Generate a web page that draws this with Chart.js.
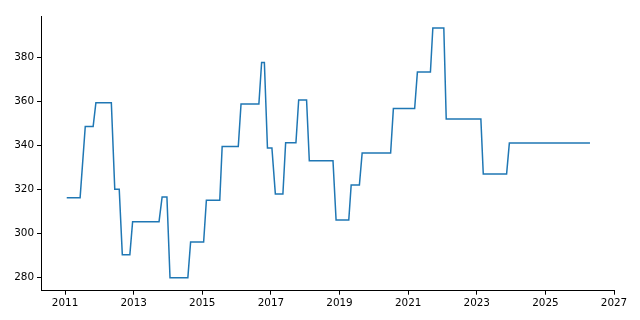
<!DOCTYPE html>
<html>
<head>
<meta charset="utf-8">
<script src="https://cdn.jsdelivr.net/npm/chart.js@4/dist/chart.umd.min.js"></script>
<style>
  html, body { margin: 0; padding: 0; background: #ffffff; }
  #wrap { width: 640px; height: 320px; position: relative; }
</style>
</head>
<body>
<div id="wrap"><canvas id="c" width="640" height="320"></canvas></div>
<script>
// Dates (decimal years) and values
const years = [
  2011.05, 2011.44, 2011.59, 2011.82, 2011.90, 2012.35, 2012.45, 2012.58, 2012.67, 2012.89,
  2012.97, 2013.74, 2013.83, 2013.97, 2014.06, 2014.58, 2014.66, 2015.04, 2015.12, 2015.51,
  2015.58, 2016.05, 2016.13, 2016.65, 2016.73, 2016.81, 2016.90, 2017.03, 2017.13, 2017.35,
  2017.43, 2017.73, 2017.81, 2018.04, 2018.12, 2018.81, 2018.90, 2019.27, 2019.34, 2019.58,
  2019.66, 2020.49, 2020.57, 2021.19, 2021.27, 2021.65, 2021.72, 2022.04, 2022.11, 2023.12,
  2023.19, 2023.87, 2023.95, 2026.30
];
const values = [
  316.2, 316.2, 348.6, 348.6, 359.4, 359.4, 320.0, 320.0, 290.3, 290.3,
  305.3, 305.3, 316.5, 316.5, 279.8, 279.8, 296.0, 296.0, 315.0, 315.0,
  339.5, 339.5, 358.8, 358.8, 377.7, 377.7, 338.8, 338.8, 317.9, 317.9,
  341.2, 341.2, 360.6, 360.6, 333.0, 333.0, 306.0, 306.0, 322.0, 322.0,
  336.5, 336.5, 356.7, 356.7, 373.3, 373.3, 393.4, 393.4, 352.0, 352.0,
  327.0, 327.0, 341.0, 341.0
];
const xTicks = [2011, 2013, 2015, 2017, 2019, 2021, 2023, 2025, 2027];
const yTicks = [280, 300, 320, 340, 360, 380];

const points = years.map((x, i) => ({ x: x, y: values[i] }));

const tickFont = { family: "'DejaVu Sans'", size: 10.4 };

new Chart(document.getElementById('c'), {
  type: 'line',
  data: {
    datasets: [{
      data: points,
      borderColor: '#1f77b4',
      borderWidth: 1.5,
      pointRadius: 0,
      fill: false,
      tension: 0
    }]
  },
  options: {
    responsive: false,
    animation: false,
    events: [],
    plugins: { legend: { display: false }, tooltip: { enabled: false } },
    layout: { padding: { top: 16, right: 26, left: 0, bottom: 0 } },
    scales: {
      x: {
        type: 'linear',
        min: 2010.3,
        max: 2027.0,
        afterBuildTicks: s => { s.ticks = xTicks.map(v => ({ value: v })); },
        afterFit: s => { s.height = 29.3; },
        ticks: {
          color: '#000',
          font: tickFont,
          padding: 2,
          maxRotation: 0,
          autoSkip: false,
          callback: v => String(v)
        },
        grid: { display: true, drawOnChartArea: false, drawTicks: true, tickLength: 4, color: '#000', tickWidth: 1 },
        border: { display: true, color: '#000', width: 1 }
      },
      y: {
        type: 'linear',
        min: 273.9,
        max: 398.8,
        afterBuildTicks: s => { s.ticks = yTicks.map(v => ({ value: v })); },
        afterFit: s => { s.width = 41; },
        ticks: {
          color: '#000',
          font: tickFont,
          padding: 3,
          autoSkip: false,
          callback: v => String(v)
        },
        grid: { display: true, drawOnChartArea: false, drawTicks: true, tickLength: 4, color: '#000', tickWidth: 1 },
        border: { display: true, color: '#000', width: 1 }
      }
    }
  }
});
</script>
</body>
</html>
